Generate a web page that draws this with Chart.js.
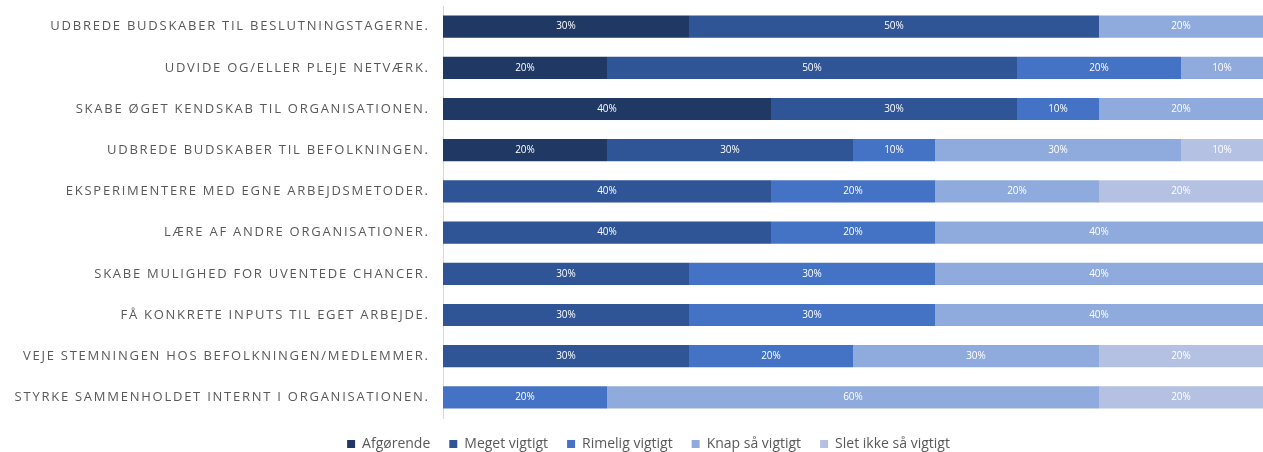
<!DOCTYPE html>
<html lang="da">
<head>
    <meta charset="UTF-8">
    <title>Vigtighed af formål</title>
    <style>
        body {
            margin: 0;
            padding: 0;
            background-color: white;
        }
        .chart-box {
            width: 1263px;
            height: 452px;
        }
    </style>
</head>
<body>
    <div class="chart-box">
        <canvas id="vigtighedChart" width="1263" height="452"></canvas>
    </div>

    <script src="https://cdn.jsdelivr.net/npm/chart.js"></script>
    <script>
        // Kategorier (y-aksen)
        const kategorier = [
            'UDBREDE BUDSKABER TIL BESLUTNINGSTAGERNE.',
            'UDVIDE OG/ELLER PLEJE NETVÆRK.',
            'SKABE ØGET KENDSKAB TIL ORGANISATIONEN.',
            'UDBREDE BUDSKABER TIL BEFOLKNINGEN.',
            'EKSPERIMENTERE MED EGNE ARBEJDSMETODER.',
            'LÆRE AF ANDRE ORGANISATIONER.',
            'SKABE MULIGHED FOR UVENTEDE CHANCER.',
            'FÅ KONKRETE INPUTS TIL EGET ARBEJDE.',
            'VEJE STEMNINGEN HOS BEFOLKNINGEN/MEDLEMMER.',
            'STYRKE SAMMENHOLDET INTERNT I ORGANISATIONEN.'
        ];

        // Serier (procent)
        const afgoerende     = [30, 20, 40, 20,  0,  0,  0,  0,  0,  0];
        const megetVigtigt   = [50, 50, 30, 30, 40, 40, 30, 30, 30,  0];
        const rimeligVigtigt = [ 0, 20, 10, 10, 20, 20, 30, 30, 20, 20];
        const knapVigtigt    = [20, 10, 20, 30, 20, 40, 40, 40, 30, 60];
        const sletIkke       = [ 0,  0,  0, 10, 20,  0,  0,  0, 20, 20];

        const serieNavne = ['Afgørende', 'Meget vigtigt', 'Rimelig vigtigt', 'Knap så vigtigt', 'Slet ikke så vigtigt'];
        const serieData = [afgoerende, megetVigtigt, rimeligVigtigt, knapVigtigt, sletIkke];
        const farver = ['#203864', '#2f5597', '#4472c4', '#8faadc', '#b4c1e3'];

        // Egne kategoritekster med bogstavafstand
        const kategoriTekst = {
            id: 'kategoriTekst',
            afterDraw(chart) {
                const ctx = chart.ctx;
                const yScale = chart.scales.y;
                const spacing = 1.75;
                ctx.save();
                ctx.font = '13px "Open Sans", sans-serif';
                ctx.fillStyle = '#595959';
                ctx.textAlign = 'right';
                ctx.textBaseline = 'middle';
                ctx.letterSpacing = spacing + 'px';
                kategorier.forEach((tekst, i) => {
                    ctx.fillText(tekst, chart.chartArea.left - 15 + spacing, yScale.getPixelForValue(i));
                });
                ctx.restore();
            }
        };

        // Procenttal inde i søjlerne
        const soejleTal = {
            id: 'soejleTal',
            afterDatasetsDraw(chart) {
                const ctx = chart.ctx;
                ctx.save();
                ctx.font = '10px "Open Sans", sans-serif';
                ctx.fillStyle = 'white';
                ctx.textAlign = 'center';
                ctx.textBaseline = 'middle';
                chart.data.datasets.forEach((ds, di) => {
                    const meta = chart.getDatasetMeta(di);
                    meta.data.forEach((bar, i) => {
                        const v = ds.data[i];
                        if (!v) return;
                        ctx.fillText(v + '%', (bar.x + bar.base) / 2, bar.y);
                    });
                });
                ctx.restore();
            }
        };

        new Chart(document.getElementById('vigtighedChart'), {
            type: 'bar',
            data: {
                labels: kategorier,
                datasets: serieNavne.map((navn, i) => ({
                    label: navn,
                    data: serieData[i],
                    backgroundColor: farver[i],
                    borderWidth: 0,
                    categoryPercentage: 1,
                    barPercentage: 0.54
                }))
            },
            options: {
                indexAxis: 'y',
                responsive: false,
                animation: false,
                layout: {
                    padding: { top: 6, right: 0, left: 34, bottom: -9 }
                },
                scales: {
                    x: {
                        stacked: true,
                        display: false,
                        min: 0,
                        max: 100
                    },
                    y: {
                        stacked: true,
                        ticks: { display: false },
                        grid: { display: false, drawTicks: false },
                        border: { display: true, color: '#d9d9d9', width: 1 },
                        afterFit(scale) {
                            scale.width = 409;
                        }
                    }
                },
                plugins: {
                    legend: {
                        position: 'bottom',
                        labels: {
                            boxWidth: 8,
                            boxHeight: 8,
                            color: '#595959',
                            padding: 19,
                            font: { family: '"Open Sans", sans-serif', size: 14 }
                        }
                    },
                    tooltip: { enabled: false }
                }
            },
            plugins: [kategoriTekst, soejleTal]
        });
    </script>
</body>
</html>
